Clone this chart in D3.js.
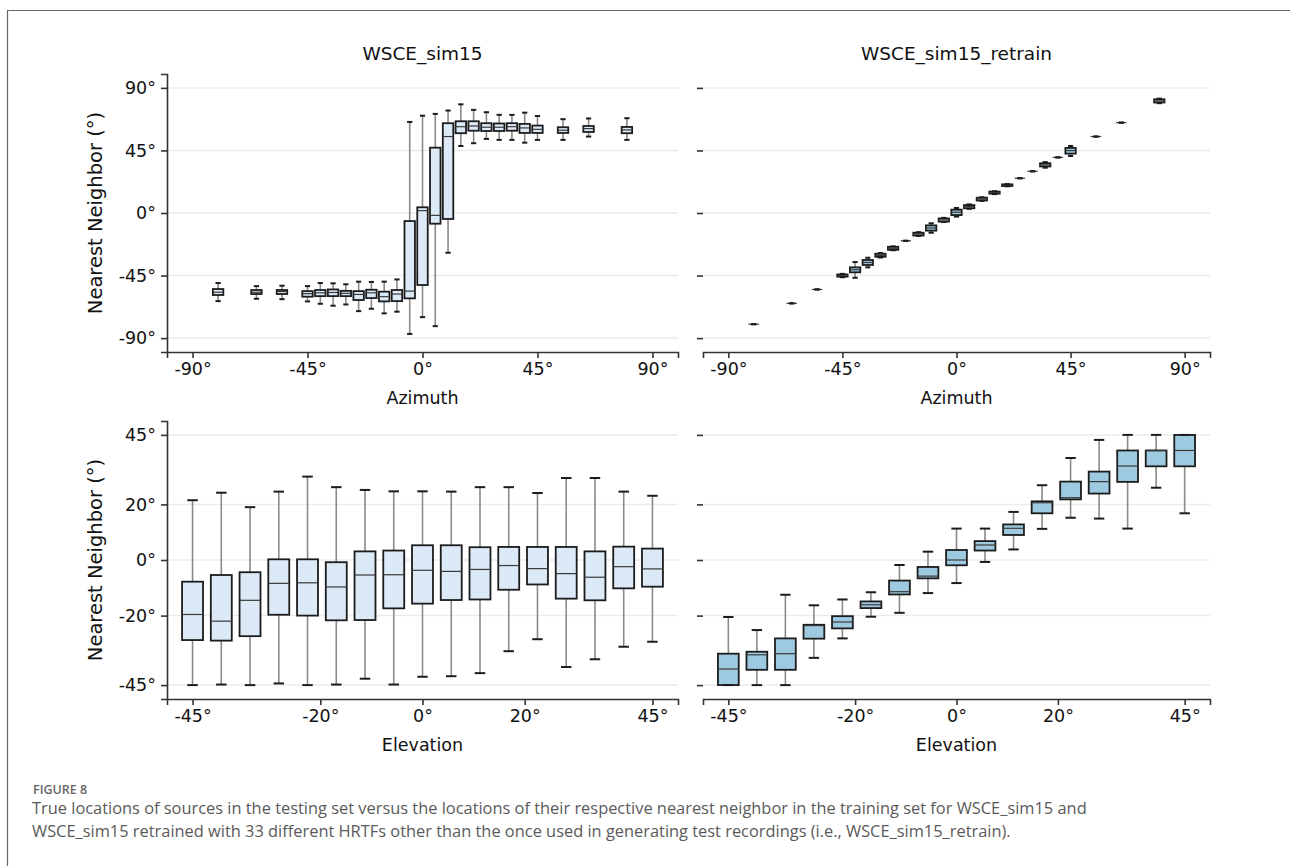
<!DOCTYPE html>
<html>
<head>
<meta charset="utf-8">
<script src="https://cdn.jsdelivr.net/npm/d3@7/dist/d3.min.js"></script>
<style>
  body { margin: 0; background: #fff; }
  svg text.mpl { font-family: 'DejaVu Sans', DejaVuSans, 'Bitstream Vera Sans', Verdana, sans-serif; }
  svg .tick text { font-family: 'DejaVu Sans', DejaVuSans, 'Bitstream Vera Sans', Verdana, sans-serif; }
  svg text.cap { font-family: 'Open Sans', Lato, sans-serif; }
</style>
</head>
<body>
<div id="chart"></div>
<script>
// source positions (degrees)
const azimuths = [-80, -65, -55, -45, -40, -35, -30, -25, -20, -15, -10, -5, 0, 5, 10, 15, 20, 25, 30, 35, 40, 45, 55, 65, 80];
const elevations = [-45, -39.375, -33.75, -28.125, -22.5, -16.875, -11.25, -5.625, 0, 5.625, 11.25, 16.875, 22.5, 28.125, 33.75, 39.375, 45];

// box stats per position: [lower whisker, q1, median, q3, upper whisker]
const simAzStats = [
  [-63.4, -59, -57, -54.7, -50.4], [-61.7, -58.3, -57, -55.4, -52.6], [-62, -58.3, -56.5, -55.4, -52.3],
  [-63.6, -60.2, -58, -56.2, -52.6], [-65.3, -59.8, -57.4, -55.4, -50.4], [-66.7, -59.8, -57.2, -55, -50.6],
  [-65.8, -59.8, -57.8, -56, -51.3], [-70.6, -62.6, -58.6, -56.2, -49.4], [-68.9, -61.2, -57.4, -55.2, -49.6],
  [-72.2, -63.6, -60.2, -56.6, -49.4], [-71, -63.4, -58.3, -55.4, -47.8], [-87, -61.4, -56.2, -5.8, 65.5],
  [-74.9, -51.8, 1.7, 4.1, 70], [-81.4, -7.7, -1.7, 47, 71.3], [-28.6, -4.3, 55, 64.6, 73.7],
  [48.2, 57.4, 62.1, 66, 78.2], [50.2, 59.2, 62.6, 66, 74.2], [53.3, 59, 61.7, 64.6, 72.5],
  [52.6, 59, 61.7, 64.4, 70.6], [52.6, 59.2, 62.1, 64.6, 70.6], [50.6, 57.6, 61.2, 64.1, 72.2],
  [52.6, 57.6, 60.2, 62.9, 69.8], [52.6, 57.6, 59.5, 61.7, 67.5], [55, 58.3, 60.7, 62.6, 68],
  [52.6, 57.4, 59.8, 61.9, 68.2]
];
const retrainAzStats = [
  [-80, -80, -80, -80, -80], [-65, -65, -65, -65, -65], [-55, -55, -55, -55, -55],
  [-46.2, -45.8, -45, -44.2, -43.8], [-46.6, -42.7, -40.8, -39.1, -35.3], [-39.1, -37.4, -35.6, -33.8, -32.2],
  [-32, -31.5, -30.5, -29.3, -28.8], [-26.8, -26.5, -25.4, -24.3, -24], [-20, -20, -20, -20, -20],
  [-16.5, -16.2, -15.1, -14.2, -13.8], [-14.2, -12.7, -10.8, -8.9, -7.4], [-6.5, -6.2, -5, -3.9, -3.5],
  [-2.6, -1.5, 0.5, 2.4, 3.6], [3, 3.4, 4.6, 5.7, 6.2], [8.7, 9, 10, 11, 11.3],
  [13.6, 13.9, 14.6, 15.4, 15.7], [19.2, 19.4, 19.9, 20.6, 20.8], [25, 25, 25, 25, 25],
  [30, 30, 30, 30, 30], [32.6, 33.5, 34.6, 35.8, 36.6], [40, 40, 40, 40, 40],
  [41, 42.7, 44.9, 46.8, 48.2], [55, 55, 55, 55, 55], [65, 65, 65, 65, 65],
  [79, 79.5, 80.6, 81.8, 82.3]
];
const simElStats = [
  [-45, -28.8, -19.6, -7.8, 21.5], [-44.8, -29, -22, -5.4, 24.2], [-45, -27.4, -14.5, -4.4, 19],
  [-44.4, -19.7, -8.4, 0.25, 24.6], [-45, -20, -8.2, 0.25, 30], [-44.8, -21.7, -9.7, -0.8, 26.2],
  [-42.7, -21.6, -5.4, 3.1, 25.2], [-44.8, -17.4, -5.3, 3.4, 24.7], [-42, -15.7, -3.7, 5.3, 24.7],
  [-41.8, -14.4, -4.1, 5.3, 24.6], [-40.7, -14.2, -3.4, 4.6, 26.2], [-32.8, -10.7, -2, 4.7, 26.2],
  [-28.5, -8.8, -3.1, 4.7, 24.1], [-38.5, -13.9, -4.9, 4.7, 29.5], [-35.7, -14.5, -6.2, 3.1, 29.5],
  [-31.2, -10.2, -2.4, 4.8, 24.6], [-29.4, -9.6, -3.2, 4.1, 23.1]
];
const retrainElStats = [
  [-45, -45, -39.2, -33.7, -20.5], [-45, -39.5, -34.1, -33, -25.2], [-45, -39.5, -33.7, -28.2, -12.5],
  [-35.2, -28.3, -23.6, -23.3, -16.3], [-28.2, -24.6, -22.3, -20.2, -14.2], [-20.4, -17.3, -16.1, -14.9, -11.6],
  [-19, -12.4, -11.4, -7.4, -1.8], [-11.9, -6.6, -5.8, -2.5, 3], [-8.3, -1.9, 0, 3.6, 11.3],
  [-0.7, 3.4, 5.4, 6.8, 11.3], [3.8, 9, 11.4, 12.8, 17.3], [11.2, 16.8, 20.6, 21.1, 26.9],
  [15.2, 21.8, 22.4, 28.2, 36.7], [14.9, 23.9, 28.2, 31.8, 43.2], [11.3, 28.1, 33.8, 39.4, 45],
  [26, 33.7, 39.4, 39.4, 45], [16.8, 33.7, 39.4, 45, 45]
];

const azTicks = [-90, -45, 0, 45, 90];
const elTicks = [-45, -20, 0, 20, 45];
const titles = ["WSCE_sim15", "WSCE_sim15_retrain"];

const W = 1290, H = 866;
const svg = d3.select("#chart").append("svg")
  .attr("width", W).attr("height", H)
  .style("display", "block");

// frame line of the figure page
svg.append("path")
  .attr("d", `M7.5,${H} V10.5 H${W}`)
  .attr("fill", "none").attr("stroke", "#666").attr("stroke-width", 1.2);

const cols = [{ left: 167, right: 678 }, { left: 703, right: 1210 }];
const rows = [{ top: 74, bottom: 352 }, { top: 421, bottom: 699 }];
const BOX_W = 4.1; // box width in data degrees

function panel(opt) {
  const x = d3.scaleLinear().domain(opt.xDomain).range([opt.left, opt.right]);
  const y = d3.scaleLinear().domain(opt.yDomain).range([opt.bottom, opt.top]);
  const g = svg.append("g");

  g.selectAll(".grid").data(opt.yTicks).join("line")
    .attr("x1", opt.left).attr("x2", opt.right)
    .attr("y1", d => y(d)).attr("y2", d => y(d))
    .attr("stroke", "#ebebeb").attr("stroke-width", 1.5);

  const xa = g.append("g")
    .attr("transform", `translate(0,${opt.bottom})`)
    .call(d3.axisBottom(x).tickValues(opt.xTicks).tickFormat(d => d + "°").tickSizeOuter(0).tickSize(6).tickPadding(5));
  xa.select(".domain").attr("stroke", "#333").attr("stroke-width", 1.6);

  const ya = g.append("g")
    .attr("transform", `translate(${opt.left},0)`)
    .call(d3.axisLeft(y).tickValues(opt.yTicks).tickFormat(opt.showY ? (d => d + "°") : "").tickSizeOuter(0).tickSize(6).tickPadding(5));
  if (opt.showY) ya.select(".domain").attr("stroke", "#333").attr("stroke-width", 1.6);
  else ya.select(".domain").remove();

  g.selectAll(".tick line").attr("stroke", "#333").attr("stroke-width", 1.6);
  g.selectAll(".tick text").attr("fill", "#111").attr("font-family", null).style("font-size", "17.5px");
  xa.attr("font-family", null);
  ya.attr("font-family", null);

  const half = (x(BOX_W) - x(0)) / 2;
  const rowsData = opt.cats.map((c, i) => ({ c, s: opt.stats[i] }));

  const b = g.selectAll(".box").data(rowsData).join("g");
  b.append("line")
    .attr("x1", d => x(d.c)).attr("x2", d => x(d.c))
    .attr("y1", d => y(d.s[0])).attr("y2", d => y(d.s[1]))
    .attr("stroke", "#8a8a8a").attr("stroke-width", 1.6);
  b.append("line")
    .attr("x1", d => x(d.c)).attr("x2", d => x(d.c))
    .attr("y1", d => y(d.s[3])).attr("y2", d => y(d.s[4]))
    .attr("stroke", "#8a8a8a").attr("stroke-width", 1.6);
  b.append("rect")
    .attr("x", d => x(d.c) - half).attr("width", half * 2)
    .attr("y", d => y(d.s[3])).attr("height", d => y(d.s[1]) - y(d.s[3]))
    .attr("fill", opt.fill).attr("stroke", "#1c1c1c").attr("stroke-width", 1.8);
  b.append("line")
    .attr("x1", d => x(d.c) - half).attr("x2", d => x(d.c) + half)
    .attr("y1", d => y(d.s[2])).attr("y2", d => y(d.s[2]))
    .attr("stroke", "#3a3a3a").attr("stroke-width", 1.2);
  [0, 4].forEach(k => {
    b.append("line")
      .attr("x1", d => x(d.c) - half / 2).attr("x2", d => x(d.c) + half / 2)
      .attr("y1", d => y(d.s[k])).attr("y2", d => y(d.s[k]))
      .attr("stroke", "#1c1c1c").attr("stroke-width", 2);
  });

  const cx = (opt.left + opt.right) / 2;
  g.append("text").attr("class", "mpl")
    .attr("x", cx).attr("y", opt.bottom + 52)
    .attr("text-anchor", "middle").style("font-size", "17.5px").attr("fill", "#111")
    .text(opt.xLabel);

  if (opt.title) {
    g.append("text").attr("class", "mpl")
      .attr("x", cx).attr("y", opt.top - 14)
      .attr("text-anchor", "middle").style("font-size", "18.5px").attr("fill", "#111")
      .text(opt.title);
  }
  if (opt.showY) {
    g.append("text").attr("class", "mpl")
      .attr("transform", `translate(102,${(opt.top + opt.bottom) / 2}) rotate(-90)`)
      .attr("text-anchor", "middle").style("font-size", "19.5px").attr("fill", "#111")
      .text("Nearest Neighbor (°)");
  }
}

panel({ ...cols[0], ...rows[0], xDomain: [-100, 100], yDomain: [-100, 100], xTicks: azTicks, yTicks: azTicks,
  cats: azimuths, stats: simAzStats, fill: "#dce9f6", showY: true, title: titles[0], xLabel: "Azimuth" });
panel({ ...cols[1], ...rows[0], xDomain: [-100, 100], yDomain: [-100, 100], xTicks: azTicks, yTicks: azTicks,
  cats: azimuths, stats: retrainAzStats, fill: "#9ecae1", showY: false, title: titles[1], xLabel: "Azimuth" });
panel({ ...cols[0], ...rows[1], xDomain: [-50, 50], yDomain: [-50, 50], xTicks: elTicks, yTicks: elTicks,
  cats: elevations, stats: simElStats, fill: "#dce9f6", showY: true, xLabel: "Elevation" });
panel({ ...cols[1], ...rows[1], xDomain: [-50, 50], yDomain: [-50, 50], xTicks: elTicks, yTicks: elTicks,
  cats: elevations, stats: retrainElStats, fill: "#9ecae1", showY: false, xLabel: "Elevation" });

// caption
const cap = svg.append("g").attr("fill", "#5a5a5a");
cap.append("text").attr("class", "cap").attr("x", 33).attr("y", 794)
  .style("font-size", "12.5px").style("font-weight", 600).attr("fill", "#666")
  .text("FIGURE 8");
cap.append("text").attr("class", "cap").attr("x", 32).attr("y", 814).style("font-size", "16.4px")
  .text("True locations of sources in the testing set versus the locations of their respective nearest neighbor in the training set for WSCE_sim15 and");
cap.append("text").attr("class", "cap").attr("x", 32).attr("y", 837).style("font-size", "16.4px")
  .text("WSCE_sim15 retrained with 33 different HRTFs other than the once used in generating test recordings (i.e., WSCE_sim15_retrain).");
</script>
</body>
</html>
